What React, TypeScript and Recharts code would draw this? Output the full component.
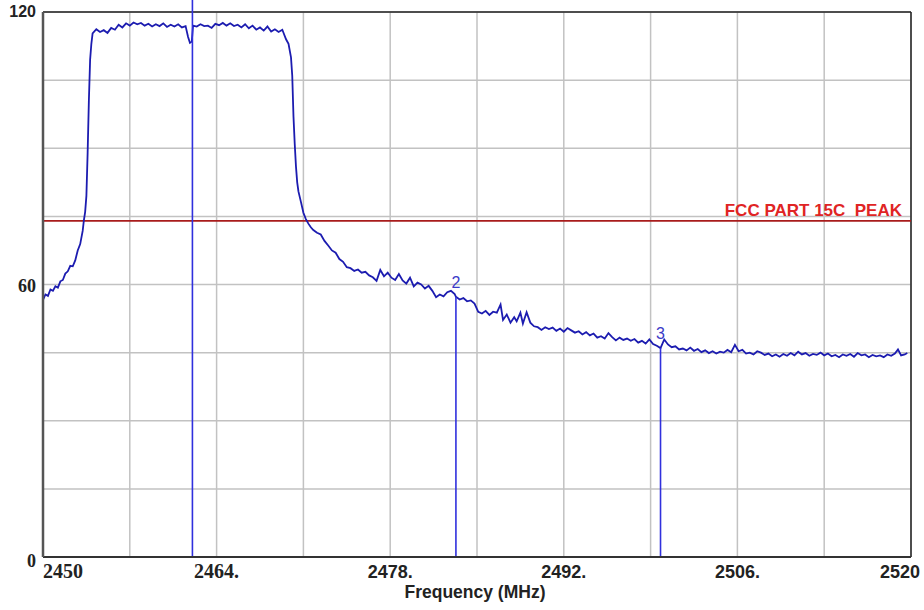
import { LineChart, Line, XAxis, YAxis, CartesianGrid, ReferenceLine } from "recharts"

// spectrum trace: [frequency MHz, level dBuV/m]
const tracePoints: [number, number][] = [
  [2450.0, 56.6], [2450.2, 57.8], [2450.4, 57.5], [2450.6, 58.9], [2450.8, 58.6],
  [2451.0, 59.6], [2451.2, 59.3], [2451.4, 60.7], [2451.6, 61.0], [2451.8, 62.4],
  [2452.0, 62.9], [2452.2, 64.1], [2452.4, 64.0], [2452.6, 65.3], [2452.8, 67.5],
  [2453.0, 68.9], [2453.2, 71.8], [2453.3, 74.2], [2453.4, 76.0], [2453.5, 79.5],
  [2453.6, 89.0], [2453.7, 100.5], [2453.8, 109.5], [2453.9, 113.0],
  [2454.0, 115.3], [2454.3, 116.2], [2454.6, 115.6], [2454.9, 116.0], [2455.2, 115.4],
  [2455.5, 116.5], [2455.8, 116.1], [2456.1, 117.2], [2456.4, 116.6], [2456.7, 117.5],
  [2457.0, 117.0], [2457.3, 117.7], [2457.6, 117.3], [2457.9, 117.6], [2458.2, 117.0],
  [2458.5, 117.4], [2458.8, 116.8], [2459.1, 117.3], [2459.4, 116.9], [2459.7, 117.5],
  [2460.0, 116.7], [2460.3, 117.2], [2460.6, 116.8], [2460.9, 117.3], [2461.2, 116.6],
  [2461.5, 116.9], [2461.7, 114.5], [2461.85, 113.2], [2462.0, 113.5], [2462.1, 117.0],
  [2462.4, 116.8], [2462.7, 117.3], [2463.0, 116.9], [2463.3, 117.0], [2463.6, 116.5],
  [2463.9, 117.4], [2464.2, 117.1], [2464.5, 117.6], [2464.8, 117.0], [2465.1, 117.5],
  [2465.4, 116.9], [2465.7, 117.2], [2466.0, 116.6], [2466.3, 117.3], [2466.6, 116.4],
  [2466.9, 117.0], [2467.2, 116.1], [2467.5, 116.6], [2467.8, 115.9], [2468.1, 116.8],
  [2468.4, 115.7], [2468.7, 116.2], [2469.0, 115.6], [2469.3, 116.1], [2469.6, 114.0],
  [2469.8, 113.0], [2470.0, 110.0], [2470.1, 106.0], [2470.2, 97.0], [2470.3, 91.0],
  [2470.4, 86.0], [2470.5, 82.5], [2470.6, 80.5], [2470.8, 78.2], [2471.0, 75.8],
  [2471.2, 74.4], [2471.4, 73.4], [2471.6, 72.6], [2471.8, 72.0], [2472.1, 71.4],
  [2472.4, 71.0], [2472.7, 69.6], [2473.0, 68.6], [2473.3, 67.5], [2473.6, 67.0],
  [2473.9, 65.6], [2474.2, 65.0], [2474.5, 63.8], [2474.8, 63.6], [2475.1, 63.0],
  [2475.4, 63.3], [2475.7, 62.6], [2476.0, 62.8], [2476.3, 62.0], [2476.6, 61.6],
  [2476.9, 60.8], [2477.2, 63.2], [2477.5, 61.8], [2477.8, 62.6], [2478.1, 61.5],
  [2478.4, 61.0], [2478.7, 62.3], [2479.0, 60.9], [2479.3, 60.2], [2479.6, 61.5],
  [2479.9, 59.6], [2480.2, 60.4], [2480.5, 60.0], [2480.8, 59.1], [2481.1, 59.7],
  [2481.4, 58.6], [2481.7, 57.2], [2482.0, 57.8], [2482.3, 57.4], [2482.6, 58.3],
  [2482.9, 58.6], [2483.2, 57.9], [2483.3, 57.3], [2483.6, 56.7], [2483.9, 57.0],
  [2484.2, 56.3], [2484.5, 56.5], [2484.8, 55.8], [2485.1, 54.0], [2485.4, 53.6],
  [2485.7, 54.2], [2486.0, 53.3], [2486.3, 54.0], [2486.6, 53.8], [2486.9, 55.6],
  [2487.1, 52.2], [2487.4, 53.4], [2487.7, 51.6], [2488.0, 52.8], [2488.2, 51.9],
  [2488.5, 53.8], [2488.7, 51.4], [2489.0, 53.9], [2489.3, 51.6], [2489.6, 50.8],
  [2489.9, 50.6], [2490.2, 50.0], [2490.5, 50.6], [2490.8, 50.2], [2491.1, 50.5],
  [2491.4, 49.8], [2491.7, 50.3], [2492.0, 49.6], [2492.3, 50.4], [2492.6, 49.9],
  [2492.9, 49.4], [2493.2, 49.7], [2493.5, 49.0], [2493.8, 49.5], [2494.1, 48.8],
  [2494.4, 49.2], [2494.7, 48.3], [2495.0, 48.6], [2495.3, 48.1], [2495.6, 49.3],
  [2495.9, 48.4], [2496.2, 47.7], [2496.5, 48.3], [2496.8, 47.8], [2497.1, 48.1],
  [2497.4, 47.6], [2497.7, 48.0], [2498.0, 47.2], [2498.3, 47.6], [2498.6, 47.0],
  [2498.9, 47.9], [2499.2, 46.9], [2499.5, 46.5], [2499.8, 46.0], [2500.1, 47.9],
  [2500.4, 46.8], [2500.7, 46.2], [2501.0, 46.4], [2501.3, 45.7], [2501.6, 45.9],
  [2501.9, 45.5], [2502.2, 46.1], [2502.5, 45.4], [2502.8, 45.8], [2503.1, 45.1],
  [2503.4, 45.5], [2503.7, 44.9], [2504.0, 45.3], [2504.3, 44.8], [2504.6, 45.2],
  [2504.9, 45.0], [2505.2, 45.6], [2505.5, 45.1], [2505.8, 46.7], [2506.1, 45.3],
  [2506.4, 45.6], [2506.7, 44.8], [2507.0, 45.0], [2507.3, 44.6], [2507.6, 45.3],
  [2507.9, 45.0], [2508.2, 44.5], [2508.5, 44.8], [2508.8, 44.2], [2509.1, 44.6],
  [2509.4, 44.1], [2509.7, 44.7], [2510.0, 44.3], [2510.3, 44.9], [2510.6, 44.4],
  [2510.9, 45.2], [2511.2, 44.6], [2511.5, 44.9], [2511.8, 44.3], [2512.1, 44.7],
  [2512.4, 44.5], [2512.7, 45.0], [2513.0, 44.4], [2513.3, 44.8], [2513.6, 44.2],
  [2513.9, 44.5], [2514.2, 44.0], [2514.5, 44.6], [2514.8, 44.3], [2515.1, 44.7],
  [2515.4, 44.1], [2515.7, 44.9], [2516.0, 44.4], [2516.3, 44.6], [2516.6, 44.0],
  [2516.9, 44.5], [2517.2, 44.2], [2517.5, 44.4], [2517.8, 44.0], [2518.1, 44.6],
  [2518.4, 44.3], [2518.7, 44.8], [2518.95, 45.7], [2519.2, 44.4], [2519.5, 44.6],
  [2519.7, 44.9],
]

// markers: frequency, level at the marker, label
const markerFreqs = [2462.05, 2483.3, 2499.8]
const markerLevels = [124, 57.3, 46.0]
const markerLabels = ["", "2", "3"]

const limitLevel = 74
const limitLabel = "FCC PART 15C  PEAK"

const xTicks = [2450, 2457, 2464, 2471, 2478, 2485, 2492, 2499, 2506, 2513, 2520]
const xLabelled = [2450, 2464, 2478, 2492, 2506, 2520]
const yTicks = [0, 15, 30, 45, 60, 75, 90, 105, 120]
const yLabelled = [0, 60, 120]

const traceData = tracePoints.map(([freq, level]) => ({ freq, level }))

const SANS = "Liberation Sans, Arial, sans-serif"
const SERIF = "Liberation Serif, Times New Roman, serif"

function XTick(props: any) {
  const { x, y, payload } = props
  const v = payload.value
  if (!xLabelled.includes(v)) return <g />
  const serif = v === 2450 || v === 2464
  const edge = v === 2450 || v === 2520
  const text = edge ? String(v) : `${v}.`
  const anchor = v === 2450 ? "start" : v === 2520 ? "end" : "middle"
  const tx = v === 2520 ? x + 9 : x
  return (
    <text
      x={tx}
      y={y + 21}
      textAnchor={anchor}
      style={{ fontFamily: serif ? SERIF : SANS, fontSize: serif ? 20 : 18, fontWeight: "bold" }}
      fill="#222"
    >
      {text}
    </text>
  )
}

function YTick(props: any) {
  const { x, y, payload } = props
  const v = payload.value
  if (!yLabelled.includes(v)) return <g />
  const serif = v !== 120
  const dy = v === 120 ? 5 : v === 60 ? 7 : 10
  return (
    <text
      x={x - 7}
      y={y + dy}
      textAnchor="end"
      style={{ fontFamily: serif ? SERIF : SANS, fontSize: serif ? 18 : 16, fontWeight: "bold" }}
      fill="#222"
    >
      {v}
    </text>
  )
}

export default function App() {
  return (
    <div style={{ position: "absolute", left: 0, top: 0, width: 924, height: 610, background: "#fff" }}>
      <LineChart width={924} height={610} data={traceData} margin={{ top: 12, right: 13, left: 0, bottom: 0 }}>
        <CartesianGrid stroke="#c2c2c2" strokeWidth={1.5} />
        <XAxis
          dataKey="freq"
          type="number"
          domain={[2450, 2520]}
          ticks={xTicks}
          interval={0}
          height={53}
          tickSize={0}
          tickMargin={0}
          tickLine={false}
          axisLine={{ stroke: "#333", strokeWidth: 2 }}
          tick={<XTick />}
          label={{
            content: ({ viewBox }: any) => (
              <text
                x={viewBox.x + viewBox.width / 2 - 2}
                y={viewBox.y + 41}
                textAnchor="middle"
                fontFamily={SANS}
                fontSize={17.5}
                fontWeight="bold"
                fill="#222"
              >
                Frequency (MHz)
              </text>
            ),
          }}
        />
        <YAxis
          type="number"
          domain={[0, 120]}
          ticks={yTicks}
          interval={0}
          width={43}
          tickSize={0}
          tickMargin={0}
          tickLine={false}
          axisLine={{ stroke: "#555", strokeWidth: 2.5 }}
          tick={<YTick />}
        />
        <ReferenceLine y={120} stroke="#222" strokeWidth={1.5} />
        <ReferenceLine x={2520} stroke="#222" strokeWidth={1.5} />
        <ReferenceLine
          y={limitLevel}
          stroke="#a81c1c"
          strokeWidth={1.6}
          label={{
            content: ({ viewBox }: any) => (
              <text
                x={viewBox.x + viewBox.width - 9}
                y={viewBox.y - 5}
                textAnchor="end"
                fontFamily={SANS}
                fontSize={17}
                fontWeight="bold"
                fill="#e02424"
                style={{ whiteSpace: "pre" }}
              >
                {limitLabel}
              </text>
            ),
          }}
        />
        <Line
          type="linear"
          dataKey="level"
          stroke="#1c1cb0"
          strokeWidth={1.8}
          dot={false}
          isAnimationActive={false}
        />
        {markerFreqs.map((f, i) => (
          <ReferenceLine
            key={`m-${i}`}
            segment={[
              { x: f, y: 0 },
              { x: f, y: markerLevels[i] },
            ]}
            ifOverflow="visible"
            stroke="#3030dd"
            strokeWidth={1.6}
            label={
              markerLabels[i]
                ? {
                    value: markerLabels[i],
                    position: "top",
                    offset: 9,
                    fill: "#3a3ac8",
                    fontSize: 16,
                    fontFamily: SANS,
                  }
                : undefined
            }
          />
        ))}
      </LineChart>
    </div>
  )
}
